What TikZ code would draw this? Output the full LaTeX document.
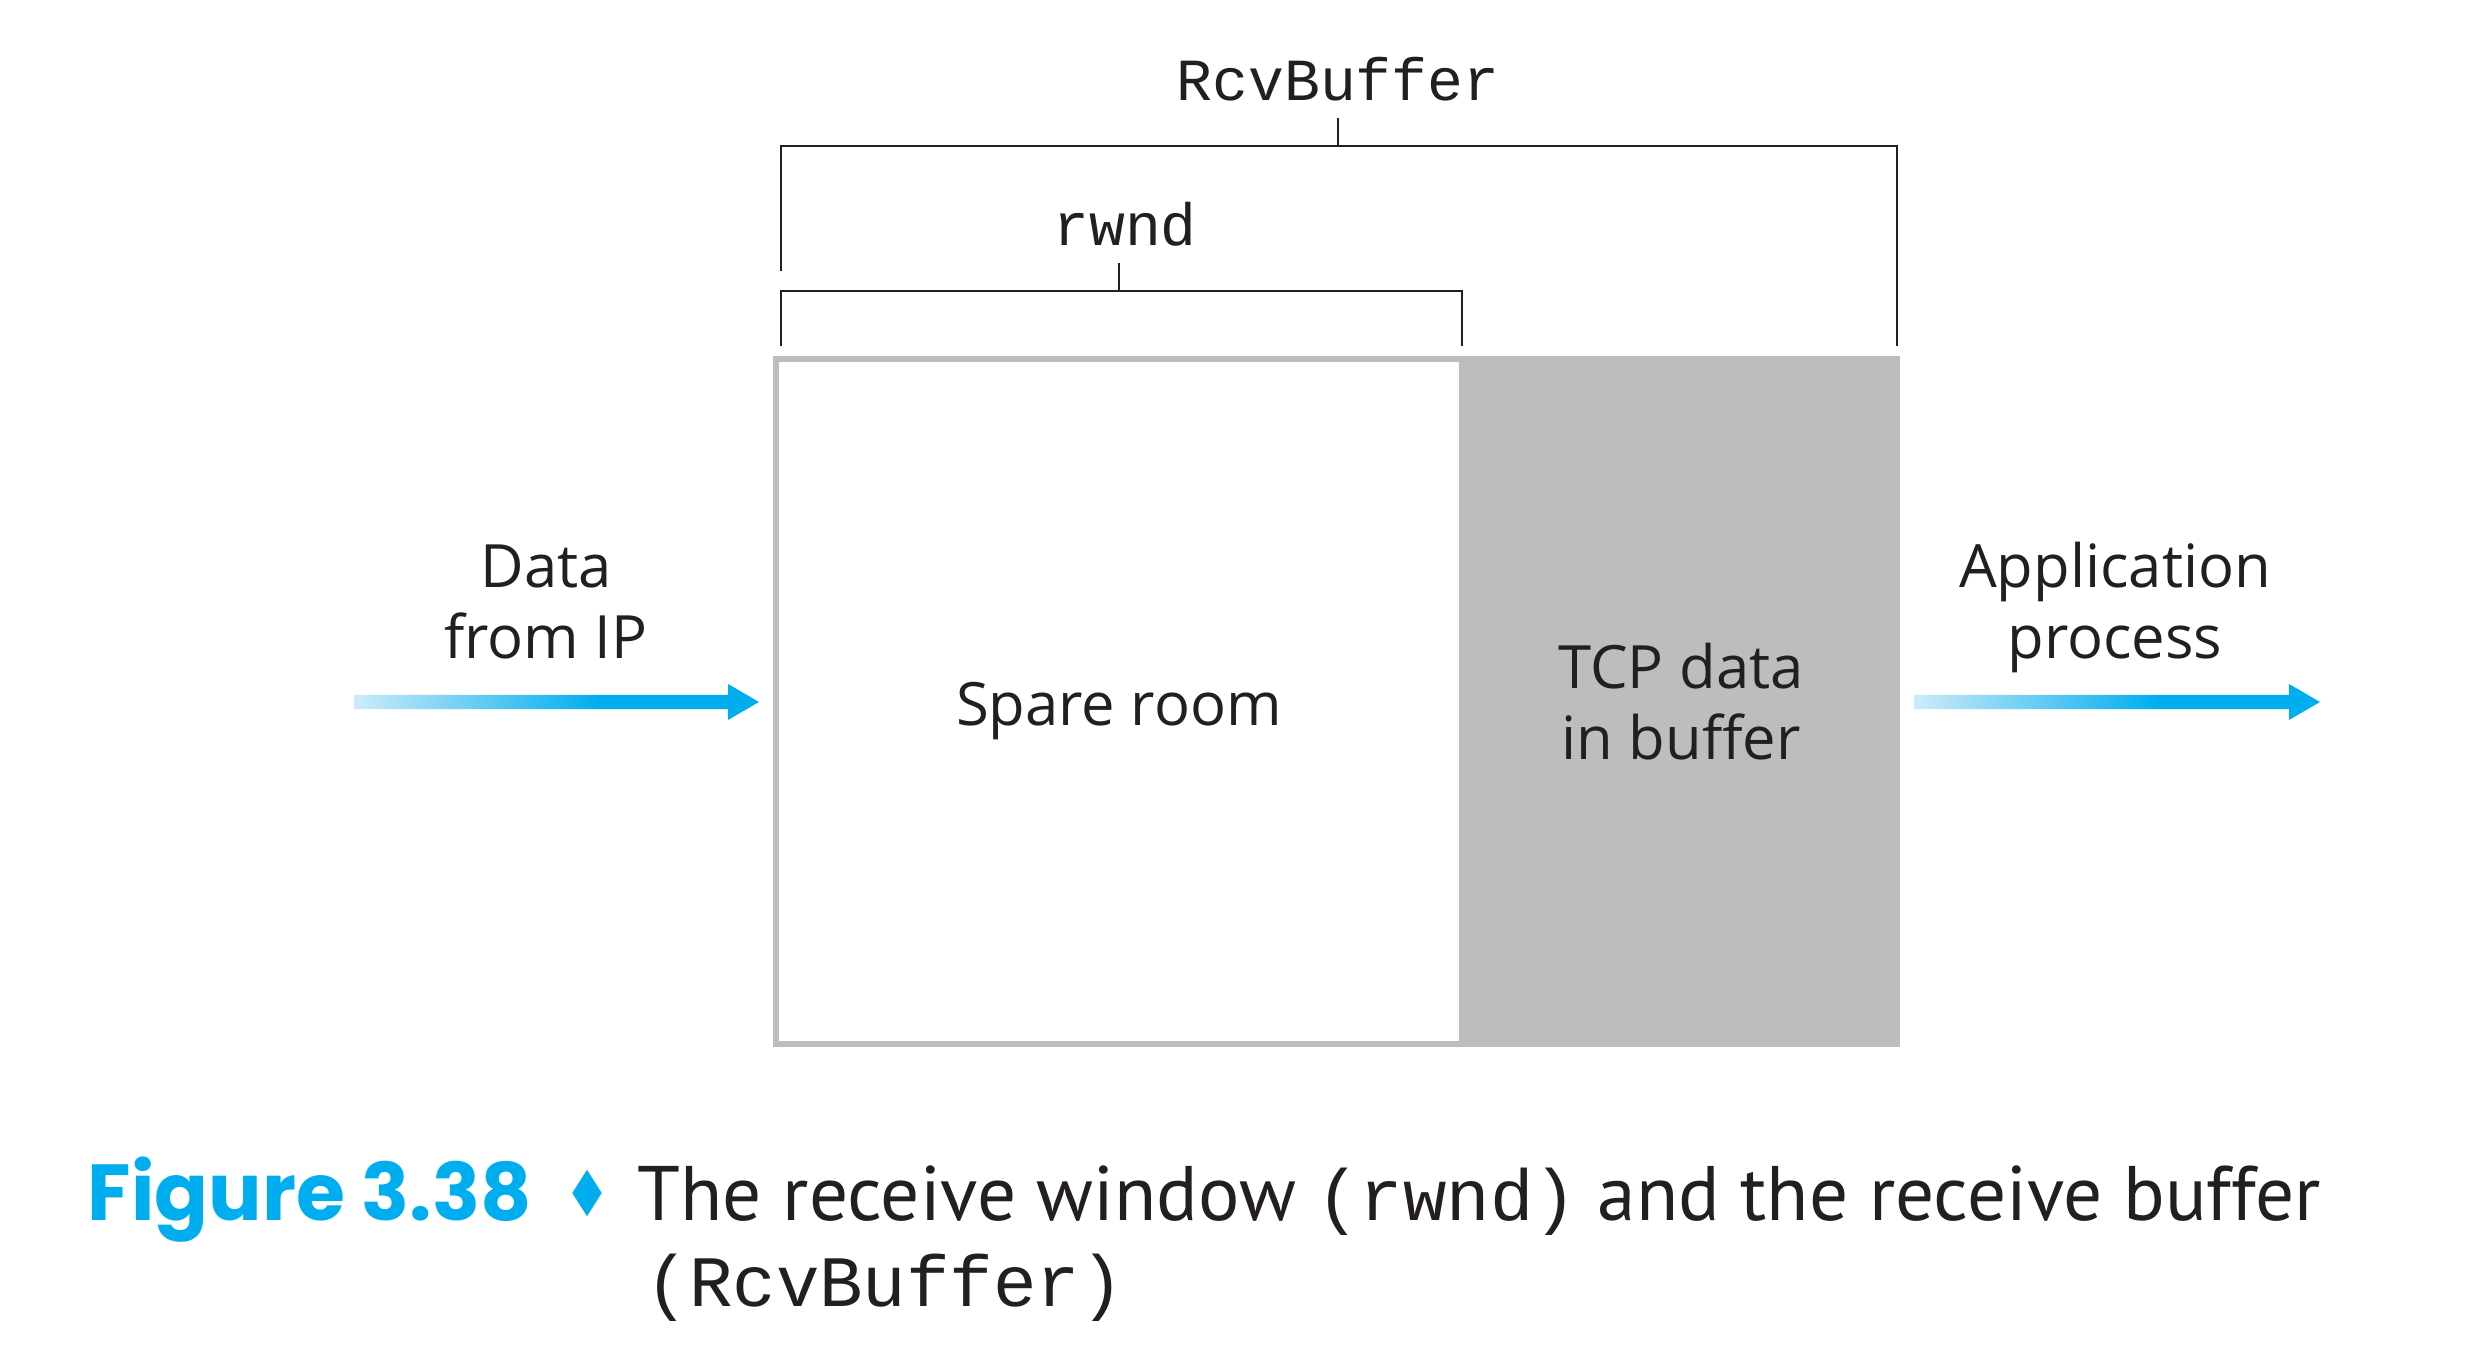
\documentclass[tikz,border=0pt]{standalone}
\usepackage{fontspec}
\setmainfont{Open Sans}
\setmonofont{Liberation Mono}
\newfontfamily\capfont{Poppins}
\newfontfamily\captext{PT Sans}
\usetikzlibrary{calc,shapes.geometric}

\definecolor{fillgray}{HTML}{BCBDBF}
\definecolor{arrowblue}{HTML}{00AEEF}
\definecolor{arrowpale}{HTML}{CDEBF9}
\definecolor{inkblack}{HTML}{231F20}

% pale on the left, full blue from about 60% on
\pgfdeclarehorizontalshading{fadeblue}{100bp}{color(0bp)=(arrowpale); color(25bp)=(arrowpale); color(55bp)=(arrowblue); color(100bp)=(arrowblue)}

% shaded arrow from #1 to #2
\newcommand{\flowarrow}[2]{%
  \shade[shading=fadeblue] ($(#1)+(0,0.072)$) -- ($(#2)+(-0.31,0.072)$) -- ($(#2)+(-0.31,0.18)$) -- (#2) -- ($(#2)+(-0.31,-0.18)$) -- ($(#2)+(-0.31,-0.072)$) -- ($(#1)+(0,-0.072)$) -- cycle;}

\begin{document}
\begin{tikzpicture}[
    bracket/.style={draw=inkblack, line width=0.7pt},
    label/.style={text=inkblack, font=\fontsize{17}{20.2}\selectfont, align=center, inner sep=0pt},
    codelabel/.style={text=inkblack, font=\ttfamily\fontsize{17}{20}\selectfont, inner sep=0pt}]
  \useasboundingbox (0,0) rectangle (24.68,13.68);
  % the buffer
  \node[fill=fillgray, minimum width=4.38cm, minimum height=6.91cm, label] (B) at (16.81,6.665) {TCP data\\in buffer};
  \node[draw=fillgray, line width=1.8pt, fill=white, minimum width=6.86cm, minimum height=6.85cm] (S) at (11.19,6.665) {};
  \node[label] (SR) at (11.19,6.57) {Spare room};
  % brackets
  \node[codelabel] (R) at (13.38,12.89) {RcvBuffer};
  \node[codelabel] (W) at (11.25,11.44) {rwnd};
  \draw[bracket] (7.81,10.97) -- (7.81,12.22) -- (18.97,12.22) -- (18.97,10.22);
  \draw[bracket] (13.38,12.22) -- (13.38,12.50);
  \draw[bracket] (7.81,10.22) -- (7.81,10.77) -- (14.62,10.77) -- (14.62,10.22);
  \draw[bracket] (11.19,10.77) -- (11.19,11.05);
  % in and out
  \node[label] (I) at (5.46,7.66) {Data\\from IP};
  \node[label] (P) at (21.15,7.61) {Application\\process};
  \coordinate (ipTail) at (3.54,6.66);
  \coordinate (ipHead) at (7.59,6.66);
  \coordinate (apTail) at (19.14,6.66);
  \coordinate (apHead) at (23.20,6.66);
  \flowarrow{ipTail}{ipHead}
  \flowarrow{apTail}{apHead}
  % caption
  \node[anchor=base west, inner sep=0pt, text=arrowblue, font=\capfont\bfseries\fontsize{22.6}{26}\selectfont] (F) at (0.87,1.48) {Figure 3.38};
  \node[diamond, fill=arrowblue, inner sep=0pt, minimum width=0.3cm, minimum height=0.47cm] (D) at (5.87,1.75) {};
  \node[anchor=base west, inner sep=0pt, text=inkblack, font=\captext\fontsize{22}{26}\selectfont] (C) at (6.37,1.48) {The receive window {\ttfamily\fontsize{20.6}{26}\selectfont(rwnd)} and the receive buffer};
  \node[anchor=base west, inner sep=0pt, text=inkblack, font=\ttfamily\fontsize{20.6}{26}\selectfont] (C2) at (6.45,0.62) {(RcvBuffer)};
\end{tikzpicture}
\end{document}
